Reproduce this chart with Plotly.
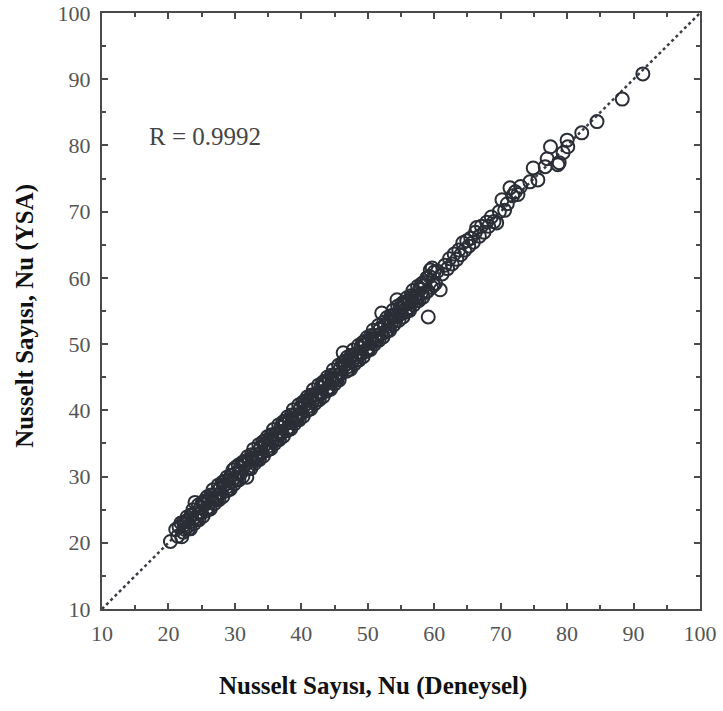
import plotly.graph_objects as go

# Experimental Nusselt numbers (x) and ANN-predicted (y)
nu_deneysel = [
    20.3, 21.1, 21.4, 21.6, 21.9, 22.0, 22.2, 22.3, 22.5, 22.7,
    22.8, 23.0, 23.1, 23.3, 23.4, 23.6, 23.7, 23.9, 24.0, 24.2,
    24.3, 24.5, 24.6, 24.8, 24.9, 25.1, 25.2, 25.4, 25.5, 25.7,
    25.8, 26.0, 26.1, 26.3, 26.4, 26.6, 26.7, 26.9, 27.0, 27.2,
    27.3, 27.5, 27.6, 27.8, 27.9, 28.1, 28.2, 28.4, 28.5, 28.7,
    28.8, 29.0, 29.1, 29.3, 29.4, 29.6, 29.7, 29.9, 30.0, 30.2,
    30.3, 30.5, 30.6, 30.8, 30.9, 31.1, 31.2, 31.4, 31.5, 31.8,
    31.9, 32.1, 32.2, 32.4, 32.5, 32.7, 32.8, 33.0, 33.1, 33.3,
    33.4, 33.6, 33.7, 33.9, 34.0, 34.2, 34.3, 34.5, 34.6, 34.8,
    34.9, 35.1, 35.2, 35.4, 35.5, 35.7, 35.8, 36.0, 36.1, 36.3,
    36.4, 36.6, 36.7, 36.9, 37.0, 37.2, 37.3, 37.5, 37.6, 37.8,
    37.9, 38.1, 38.2, 38.4, 38.5, 38.7, 38.8, 39.0, 39.1, 39.3,
    39.4, 39.6, 39.7, 39.9, 40.0, 40.2, 40.3, 40.5, 40.6, 40.8,
    40.9, 41.1, 41.2, 41.4, 41.5, 41.7, 41.8, 42.0, 42.1, 42.3,
    42.4, 42.6, 42.7, 42.9, 43.0, 43.2, 43.3, 43.5, 43.6, 43.8,
    43.9, 44.1, 44.2, 44.4, 44.5, 44.7, 44.8, 45.0, 45.1, 45.3,
    45.4, 45.6, 45.7, 45.9, 46.0, 46.2, 46.3, 46.5, 46.6, 46.8,
    46.9, 47.1, 47.2, 47.4, 47.5, 47.7, 47.8, 48.0, 48.1, 48.3,
    48.4, 48.6, 48.7, 48.9, 49.0, 49.2, 49.3, 49.5, 49.6, 49.8,
    49.9, 50.1, 50.2, 50.4, 50.5, 50.7, 50.8, 51.0, 51.1, 51.3,
    51.4, 51.6, 51.7, 51.9, 52.0, 52.1, 52.3, 52.4, 52.6, 52.7,
    52.9, 53.0, 53.2, 53.3, 53.5, 53.6, 53.8, 53.9, 54.1, 54.2,
    54.4, 54.5, 54.7, 54.8, 55.0, 55.1, 55.3, 55.4, 55.6, 55.7,
    55.9, 56.0, 56.2, 56.3, 56.5, 56.6, 56.8, 56.9, 57.1, 57.2,
    57.4, 57.5, 57.7, 57.8, 58.0, 58.1, 58.3, 58.4, 58.6, 58.7,
    58.9, 59.0, 59.1, 59.3, 59.4, 59.6, 59.7, 59.9, 60.0, 60.2,
    60.5, 60.9, 61.2, 61.6, 62.0, 62.3, 62.7, 63.0, 63.4, 63.7,
    64.0, 64.3, 64.6, 64.9, 65.2, 65.5, 65.9, 66.2, 66.4, 66.8,
    67.1, 67.5, 67.9, 68.2, 68.6, 69.0, 69.4, 69.8, 70.2, 70.6,
    71.0, 71.4, 71.8, 72.2, 72.6, 73.0, 74.4, 74.9, 75.6, 76.7,
    77.0, 77.5, 78.6, 78.8, 79.4, 80.0, 80.1, 82.2, 84.5, 88.3, 91.4,
    22.4, 22.9, 23.5, 24.1, 24.7, 25.3, 25.9, 26.5, 27.1, 27.7,
    28.3, 28.9, 29.5, 30.1, 30.7, 31.3, 31.9, 32.6, 33.2, 33.8,
    34.4, 35.0, 35.6, 36.2, 36.8, 37.4, 38.0, 38.6, 39.2, 39.8,
    40.4, 41.0, 41.6, 42.2, 42.8, 43.4, 44.0, 44.6, 45.2, 45.8,
    46.4, 47.0, 47.6, 48.2, 48.8, 49.4, 50.0, 50.6, 51.2, 51.8,
    52.5, 53.1, 53.7, 54.3, 54.9, 55.5, 56.1, 56.7, 57.3, 57.9,
    58.5,
]
nu_ysa = [
    20.2, 22.0, 21.0, 22.4, 23.0, 20.9, 21.6, 23.1, 22.0, 23.3,
    23.9, 22.1, 23.5, 22.1, 24.2, 23.3, 25.0, 22.9, 26.1, 23.5,
    23.5, 25.7, 23.5, 25.3, 24.5, 26.1, 24.0, 26.3, 25.8, 24.8,
    26.9, 25.1, 26.5, 25.1, 27.2, 26.3, 28.0, 25.9, 27.2, 26.5,
    26.5, 28.7, 26.5, 28.3, 27.5, 29.1, 27.0, 29.3, 28.8, 27.8,
    29.9, 28.1, 29.5, 28.1, 30.2, 29.3, 31.0, 28.9, 31.3, 29.5,
    29.5, 31.7, 29.5, 31.3, 30.5, 32.1, 30.0, 32.3, 31.8, 29.9,
    33.0, 31.2, 32.6, 31.2, 33.3, 32.4, 34.1, 32.0, 33.3, 32.6,
    32.6, 34.8, 32.6, 34.4, 33.6, 35.2, 33.1, 35.4, 34.9, 33.9,
    36.0, 34.2, 35.6, 34.2, 36.3, 35.4, 37.1, 35.0, 36.3, 35.6,
    35.6, 37.8, 35.6, 37.4, 36.6, 38.2, 36.1, 38.4, 37.9, 36.9,
    39.0, 37.2, 38.6, 37.2, 39.3, 38.4, 40.1, 38.0, 39.3, 38.6,
    38.6, 40.8, 38.6, 40.4, 39.6, 41.2, 39.1, 41.4, 40.9, 39.9,
    42.0, 40.2, 41.6, 40.2, 42.3, 41.4, 43.1, 41.0, 42.3, 41.6,
    41.6, 43.8, 41.6, 43.4, 42.6, 44.2, 42.1, 44.4, 43.9, 42.9,
    45.0, 43.2, 44.6, 43.2, 45.3, 44.4, 46.1, 44.0, 45.3, 44.6,
    44.6, 46.8, 44.6, 46.4, 45.6, 47.2, 48.7, 47.4, 46.9, 45.9,
    48.0, 46.2, 47.6, 46.2, 48.3, 47.4, 49.1, 47.0, 48.3, 47.6,
    47.6, 49.8, 47.6, 49.4, 48.6, 50.2, 48.1, 50.4, 49.9, 48.9,
    51.0, 49.2, 50.6, 49.2, 51.3, 50.4, 52.1, 50.0, 51.3, 50.6,
    50.6, 52.8, 50.6, 52.4, 51.6, 54.7, 51.1, 53.3, 52.9, 51.8,
    54.0, 52.1, 53.6, 52.1, 54.3, 53.3, 55.1, 52.9, 54.3, 53.5,
    56.7, 55.7, 53.6, 55.3, 54.6, 56.1, 54.1, 56.3, 55.9, 54.8,
    57.0, 55.1, 56.6, 55.1, 57.3, 56.3, 58.1, 55.9, 57.3, 56.5,
    56.6, 58.7, 56.6, 58.3, 57.6, 59.1, 57.1, 59.3, 58.9, 57.8,
    60.0, 58.0, 54.1, 60.2, 61.2, 58.6, 61.5, 58.9, 60.9, 59.2,
    61.0, 58.2, 60.6, 61.9, 61.4, 62.9, 62.1, 63.6, 62.8, 64.2,
    63.5, 65.3, 64.2, 65.6, 64.8, 66.0, 65.4, 66.9, 67.6, 66.3,
    67.8, 66.9, 68.4, 67.8, 69.2, 68.5, 68.3, 70.0, 71.8, 70.2,
    71.2, 73.6, 72.4, 73.0, 72.6, 73.8, 74.5, 76.6, 74.8, 76.8,
    78.0, 79.8, 77.1, 77.4, 78.9, 80.8, 79.8, 81.9, 83.6, 87.0, 90.8,
    22.7, 22.5, 24.1, 23.9, 24.7, 25.8, 25.3, 26.7, 26.8, 28.1,
    28.6, 28.5, 30.1, 29.9, 30.7, 31.8, 31.3, 32.8, 32.9, 34.2,
    34.7, 34.6, 36.2, 36.0, 36.8, 37.9, 37.4, 38.8, 38.9, 40.2,
    40.7, 40.6, 42.2, 42.0, 42.8, 43.9, 43.4, 44.8, 44.9, 46.2,
    46.7, 46.6, 48.2, 48.0, 48.8, 49.9, 49.4, 50.8, 50.9, 52.2,
    52.8, 52.7, 54.3, 54.1, 54.9, 56.0, 55.5, 56.9, 57.0, 58.3,
    58.8,
]

ideal_line = [10, 100]
tick_vals = [10, 20, 30, 40, 50, 60, 70, 80, 90, 100]
r_text = "R = 0.9992"
x_title = "Nusselt Sayısı, Nu (Deneysel)"
y_title = "Nusselt Sayısı, Nu (YSA)"

FONT = "Liberation Serif"
fig = go.Figure()
fig.add_trace(go.Scatter(
    x=ideal_line, y=ideal_line, mode="lines",
    line=dict(color="#3a3d44", width=2.5, dash="dot"),
    showlegend=False, hoverinfo="skip"))
fig.add_trace(go.Scatter(
    x=nu_deneysel, y=nu_ysa, mode="markers",
    marker=dict(symbol="circle-open", size=13, color="#2b2e36",
                line=dict(width=2.0, color="#2b2e36")),
    showlegend=False))

axis_common = dict(
    range=[10, 100], tickmode="array", tickvals=tick_vals,
    showline=True, linecolor="#4a4a4a", linewidth=2, mirror="ticks",
    ticks="inside", ticklen=6, tickwidth=2, tickcolor="#4a4a4a",
    minor=dict(dtick=5, ticks="inside", ticklen=4, tickwidth=1.5, tickcolor="#4a4a4a"),
    showgrid=False, zeroline=False, automargin=False,
    ticklabeloverflow="allow",
    tickfont=dict(family=FONT, size=22, color="#555"),
)
fig.update_xaxes(**axis_common, ticklabelstandoff=4)
fig.update_yaxes(**axis_common, ticklabelstandoff=5)
fig.add_annotation(xref="paper", yref="paper", x=0.453, y=-0.129,
                   xanchor="center", yanchor="middle", showarrow=False,
                   text="<b>" + x_title + "</b>",
                   font=dict(family=FONT, size=25, color="#111"))
fig.add_annotation(xref="paper", yref="paper", x=-0.129, y=0.4916,
                   xanchor="center", yanchor="middle", showarrow=False,
                   textangle=-90, text="<b>" + y_title + "</b>",
                   font=dict(family=FONT, size=25, color="#111"))
fig.add_annotation(x=16.8, y=81.3, xanchor="left", yanchor="middle",
                   text=r_text, showarrow=False,
                   font=dict(family=FONT, size=25, color="#444"))
fig.update_layout(width=723, height=711, plot_bgcolor="white", paper_bgcolor="white",
                  margin=dict(l=102, r=23, t=13, b=102))
fig.write_html("out.html", config={"displayModeBar": False},
               post_script="document.body.style.margin='0';document.body.style.overflow='hidden';")
